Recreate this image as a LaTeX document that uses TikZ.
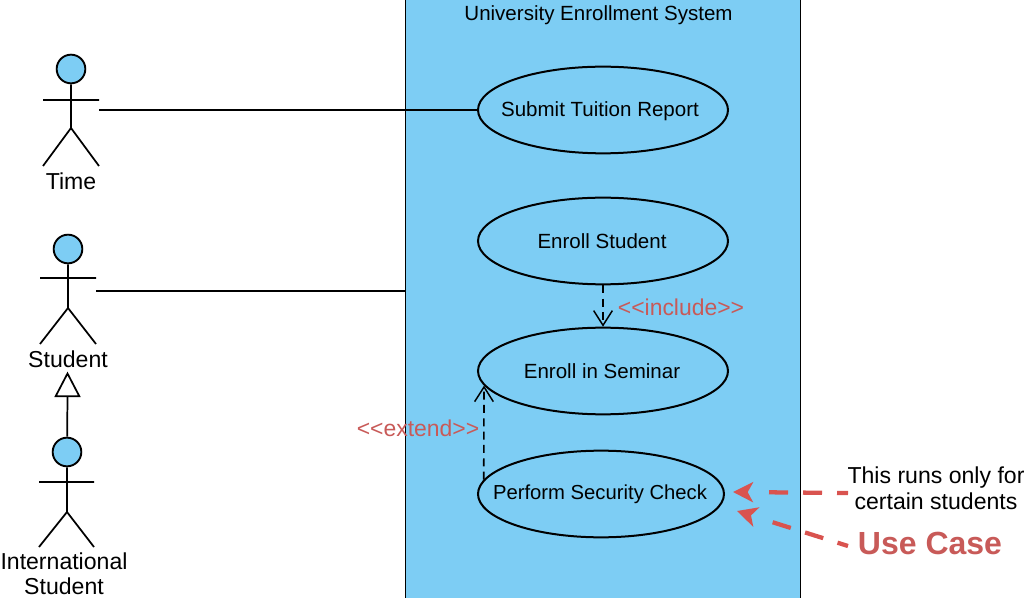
\documentclass[tikz,border=0pt]{standalone}
\usepackage{fontspec}
\setmainfont{Liberation Sans}
\usetikzlibrary{arrows.meta}
\usetikzlibrary{shapes.geometric}
\definecolor{sysblue}{RGB}{125,205,244}
\definecolor{notered}{RGB}{200,90,88}
\definecolor{arrowred}{RGB}{217,83,79}
\tikzset{
  usecase/.style={draw=black,line width=1.5pt,ellipse,inner sep=0pt,minimum width=187.5pt,minimum height=65pt},
  usecasetext/.style={inner sep=0pt,font=\fontsize{15.4}{18}\selectfont},
  actorlabel/.style={inner sep=0pt,align=center,font=\fontsize{17.3}{19}\selectfont},
  actorhead/.style={draw=black,line width=1.4pt,fill=sysblue,circle,inner sep=0pt,minimum size=21.5pt},
  actorline/.style={line width=1.3pt,black},
  stereo/.style={inner sep=0pt,text=notered,font=\fontsize{17.2}{18}\selectfont},
  dep/.style={line width=1.2pt,dash pattern={on 6pt off 4pt},-{Straight Barb[length=11pt,width=14pt,line width=1.1pt]}},
  notearrow/.style={arrowred,line width=3.2pt,dash pattern={on 8.25pt off 11.25pt on 14.25pt off 11.25pt on 14.25pt off 100pt},-{Stealth[length=15pt,width=15pt,inset=4pt]}}
}
\begin{document}
\begin{tikzpicture}[x=0.75pt,y=0.75pt,yscale=-1,xscale=1]
\useasboundingbox (0,0) rectangle (1024,598);

%System box
\draw [fill=sysblue,line width=1.3pt] (405.5,-4) rectangle (800.5,602);
\node (title) [inner sep=0pt,font=\fontsize{15.4}{18}\selectfont] at (598.5,15) {University Enrollment System};

%Use cases
\node (submit) [usecase] at (603,110) {};
\node (submittext) [usecasetext] at (600,111) {Submit Tuition Report};
\node (enroll) [usecase] at (603,241) {};
\node (enrolltext) [usecasetext] at (602,241) {Enroll Student};
\node (seminar) [usecase] at (603,371) {};
\node (seminartext) [usecasetext] at (602,371) {Enroll in Seminar};
\node (check) [usecase,minimum width=184.5pt] at (601,494) {};
\node (checktext) [usecasetext,font=\fontsize{15.2}{18}\selectfont] at (600,494) {Perform Security Check};

%Actor: Time
\node (timehead) [actorhead] at (71,69) {};
\coordinate (timehip) at (71,128);
\coordinate (timestart) at (99,110);
\draw [actorline] (timehead) -- (timehip) (43,100) -- (99,100) (43,166) -- (timehip) -- (99,166);
\node (timelabel) [actorlabel] at (71,181) {Time};

%Actor: Student
\node (studenthead) [actorhead] at (68,249) {};
\coordinate (studenthip) at (68,308);
\coordinate (studentstart) at (96,291);
\coordinate (studentend) at (405.5,291);
\draw [actorline] (studenthead) -- (studenthip) (40,278) -- (96,278) (40,344) -- (studenthip) -- (96,344);
\node (studentlabel) [actorlabel] at (68,359) {Student};

%Actor: International Student
\node (inthead) [actorhead] at (67,452) {};
\coordinate (inthip) at (67,512);
\draw [actorline] (inthead) -- (inthip) (39,482) -- (94,482) (39,547) -- (inthip) -- (94,547);
\node (intlabel) [actorlabel] at (64,574) {International\\Student};

%Generalization
\node (triangle) [draw=black,line width=1.3pt,fill=white,isosceles triangle,isosceles triangle apex angle=55,shape border rotate=90,inner sep=0pt,minimum height=17pt] at (67.5,389) {};
\draw [actorline] (inthead) -- (triangle.south);

%Associations
\draw [actorline] (timestart) -- (submit);
\draw [actorline] (studentstart) -- (studentend);

%Include and extend
\draw [dep] (enroll) -- (seminar);
\draw [dep] (check.173) -- (seminar.187);
\node (include) [stereo] at (681,307) {<{}<include>{}>};
\node (extend) [stereo] at (418,428) {<{}<extend>{}>};

%Notes
\node (note) [inner sep=0pt,align=center,font=\fontsize{17.3}{19.5}\selectfont] at (936,488) {This runs only for\\certain students};
\node (usecaselabel) [inner sep=0pt,text=notered,font=\fontsize{24}{27}\selectfont\bfseries] at (930,543) {Use Case};
\coordinate (notestart) at (848,493);
\coordinate (labelstart) at (848,546);
\draw [notearrow] (notestart) -- (733,492);
\draw [notearrow] (labelstart) -- (737,511);

\end{tikzpicture}
\end{document}
